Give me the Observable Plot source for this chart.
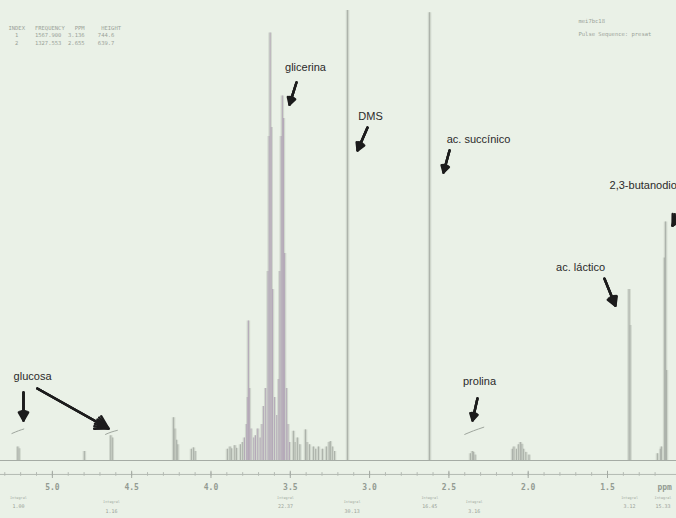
<!DOCTYPE html>
<html><head><meta charset="utf-8">
<script src="https://cdn.jsdelivr.net/npm/d3@7"></script>
<script src="https://cdn.jsdelivr.net/npm/@observablehq/plot@0.6"></script>
<style>html,body{margin:0;padding:0;background:#eaf1e7;overflow:hidden}</style>
</head><body><div id="chart"></div>
<script>
// spectral lines: chemical shift (ppm) and intensity (0..100)
const peakPpm = [
  5.218, 5.210,
  4.798,
  4.632, 4.622,
  4.236, 4.228, 4.218, 4.210,
  4.123, 4.110, 4.100,
  3.896, 3.880, 3.871, 3.850, 3.839, 3.814, 3.800, 3.789, 3.775, 3.768, 3.764, 3.758, 3.748, 3.730, 3.719, 3.705, 3.690, 3.678, 3.668,
  3.655, 3.640, 3.633, 3.627, 3.620, 3.612, 3.600, 3.585,
  3.572, 3.565, 3.557, 3.550, 3.543, 3.536, 3.525, 3.515,
  3.505, 3.480, 3.470, 3.455, 3.440, 3.404, 3.395, 3.379, 3.354, 3.340, 3.322, 3.297, 3.272, 3.255, 3.247, 3.235, 3.221,
  3.139,
  2.622,
  2.364, 2.352, 2.345, 2.335,
  2.099, 2.090, 2.074, 2.060, 2.049, 2.040, 2.030, 2.015, 1.995,
  1.364, 1.358,
  1.185, 1.165, 1.160, 1.140, 1.134, 1.128
];
const peakHeight = [
  3.0, 2.6,
  2.0,
  5.5, 5.0,
  9.5, 7.0, 4.5, 3.5,
  2.5, 2.8, 2.0,
  2.5, 3.0, 2.6, 3.3, 2.7, 3.5, 4.0, 5.0, 8.0, 14, 31, 16, 7.0, 5.0, 5.5, 7.0, 5.0, 8.0, 12,
  16, 42, 72, 95, 74, 38, 14, 10,
  18, 42, 72, 81, 76, 46, 16, 8.0,
  4.0, 6.5, 4.0, 5.0, 3.5, 6.8, 4.0, 3.5, 3.0, 2.5, 3.0, 2.5, 3.0, 4.0, 4.2, 3.0, 2.0,
  100,
  99.5,
  1.5, 2.0, 1.8, 1.2,
  2.5, 3.0, 2.5, 3.5, 4.0, 3.6, 2.5, 1.8, 1.2,
  38, 30,
  1.5, 2.5, 3.0, 45, 53, 20
];
// integral traces (group, ppm, value)
const integralGroup = ["g1","g1","g1","g2","g2","g2","p","p","p"];
const integralPpm   = [5.255, 5.214, 5.180, 4.665, 4.630, 4.590, 2.400, 2.345, 2.280];
const integralValue = [6.0, 6.6, 7.0, 5.8, 6.3, 6.7, 5.8, 6.6, 7.4];
// axis
const tickValues = [5.0, 4.5, 4.0, 3.5, 3.0, 2.5, 2.0, 1.5];
const tickLabels = ["5.0", "4.5", "4.0", "3.5", "3.0", "2.5", "2.0", "1.5"];
const minorTicks = d3.range(53, 11, -1).map(v => v / 10);
// integral values printed under the axis
const integralLabelPpm = [5.214, 4.627, 3.530, 3.110, 2.620, 2.340, 1.361, 1.150];
const integralLabels = ["1.00", "1.16", "22.37", "30.13", "16.45", "3.16", "3.12", "15.33"];
const integralLabelRow = [0, 1, 0, 1, 0, 1, 0, 0];
// annotations
const labelText = ["glicerina", "DMS", "ac. succínico", "2,3-butanodiol", "ac. láctico", "prolina", "glucosa"];
const labelPpm  = [3.404, 2.994, 2.313, 1.487, 1.670, 2.307, 5.125];
const labelY    = [87.3, 76.4, 71.3, 61.1, 42.9, 17.6, 18.7];
const labelAnchor = ["middle","middle","middle","start","middle","middle","middle"];
const arrowX1 = [3.461, 3.013, 2.496, 0.977, 1.519, 2.320, 5.182, 5.095];
const arrowY1 = [84.0, 74.0, 68.9, 58.9, 40.4, 13.8, 15.1, 16.0];
const arrowX2 = [3.505, 3.076, 2.534, 1.090, 1.450, 2.351, 5.182, 4.646];
const arrowY2 = [79.1, 68.9, 64.0, 52.2, 34.4, 8.9, 8.9, 7.1];
// header texts
const headerLines = ["INDEX   FREQUENCY   PPM     HEIGHT", "  1     1567.900  3.136    744.6", "  2     1327.553  2.655    639.7"];
const headerY = [96.0, 94.4, 92.8];
const infoLines = ["mei7bc18", "Pulse Sequence: presat"];
const infoY = [97.6, 94.8];

const peaks = peakPpm.map((p, i) => ({ppm: p, h: peakHeight[i]}));
const integrals = integralPpm.map((p, i) => ({g: integralGroup[i], ppm: p, v: integralValue[i]}));
const ticks = tickValues.map((t, i) => ({t, label: tickLabels[i]}));
const intLabels = integralLabelPpm.map((p, i) => ({ppm: p, label: integralLabels[i], row: integralLabelRow[i]}));
const labels = labelText.map((t, i) => ({t, ppm: labelPpm[i], y: labelY[i], a: labelAnchor[i]}));
const arrows = arrowX1.map((x, i) => ({x1: x, y1: arrowY1[i], x2: arrowX2[i], y2: arrowY2[i]}));
const header = headerLines.map((t, i) => ({t, y: headerY[i]}));
const info = infoLines.map((t, i) => ({t, y: infoY[i]}));

const isGly = d => d.ppm > 3.5 && d.ppm < 3.8;
const labelFont = {fontFamily: "Liberation Sans, Arial, sans-serif", fontSize: 11, fill: "#2a2a2a"};
const arrowStyle = {x1: "x1", y1: "y1", x2: "x2", y2: "y2", stroke: "#1c1c1c", headLength: 9};

const chart = Plot.plot({
  width: 676, height: 518,
  marginLeft: 0, marginRight: 0, marginTop: 0, marginBottom: 0,
  style: {background: "#eaf1e7", overflow: "hidden"},
  x: {domain: [5.327, 1.065], axis: null},
  y: {domain: [0, 100], range: [460, 10], axis: null},
  marks: [
    Plot.ruleX(peaks, {x: "ppm", y1: 0, y2: "h", stroke: "#d0d7cd", strokeWidth: 3.5}),
    Plot.ruleX(peaks, {x: "ppm", y1: 0, y2: "h", stroke: d => isGly(d) ? "#b4a8b8" : "#acb2aa", strokeWidth: 1}),
    Plot.ruleY([0], {stroke: "#a5aba4", strokeWidth: 1.2}),
    Plot.line(integrals, {x: "ppm", y: "v", z: "g", stroke: "#9ea59d", strokeWidth: 1, curve: "natural"}),
    // axis
    Plot.ruleY([-3.1], {stroke: "#b3b9b2", strokeWidth: 1}),
    Plot.ruleX(minorTicks, {x: d => d, y1: -2.7, y2: -3.5, stroke: "#b3b9b2", strokeWidth: 1}),
    Plot.ruleX(ticks, {x: "t", y1: -2.4, y2: -4.0, stroke: "#a3a9a2", strokeWidth: 1}),
    Plot.text(ticks, {x: "t", y: -6.0, text: "label", fontFamily: "DejaVu Sans Mono", fontSize: 8, fontWeight: "bold", fill: "#939b92"}),
    Plot.text(["ppm"], {x: 1.14, y: -6.0, text: d => d, fontFamily: "DejaVu Sans Mono", fontSize: 8, fontWeight: "bold", fill: "#939b92"}),
    Plot.text(intLabels, {x: "ppm", y: d => d.row ? -9.2 : -8.2, text: () => "Integral", fontFamily: "DejaVu Sans Mono", fontSize: 3.5, fill: "#a3aba2"}),
    Plot.text(intLabels, {x: "ppm", y: d => d.row ? -11.3 : -10.2, text: "label", fontFamily: "DejaVu Sans Mono", fontSize: 5, fill: "#9aa299"}),
    // header
    Plot.text(header, {x: 5.277, y: "y", text: "t", textAnchor: "start", fontFamily: "DejaVu Sans Mono", fontSize: 5.5, fill: "#9aa399"}),
    Plot.text(info, {x: 1.683, y: "y", text: "t", textAnchor: "start", fontFamily: "DejaVu Sans Mono", fontSize: 5.5, fill: "#9aa399"}),
    // annotations: arrows with filled-looking heads
    Plot.arrow(arrows, {...arrowStyle, strokeWidth: 2.4, headAngle: 60}),
    Plot.arrow(arrows, {...arrowStyle, strokeWidth: 2.4, headAngle: 40}),
    Plot.arrow(arrows, {...arrowStyle, strokeWidth: 2.4, headAngle: 20}),
    Plot.text(labels.filter(d => d.a === "middle"), {x: "ppm", y: "y", text: "t", textAnchor: "middle", ...labelFont}),
    Plot.text(labels.filter(d => d.a === "start"), {x: "ppm", y: "y", text: "t", textAnchor: "start", ...labelFont})
  ]
});
document.getElementById("chart").appendChild(chart);
</script>
</body></html>
